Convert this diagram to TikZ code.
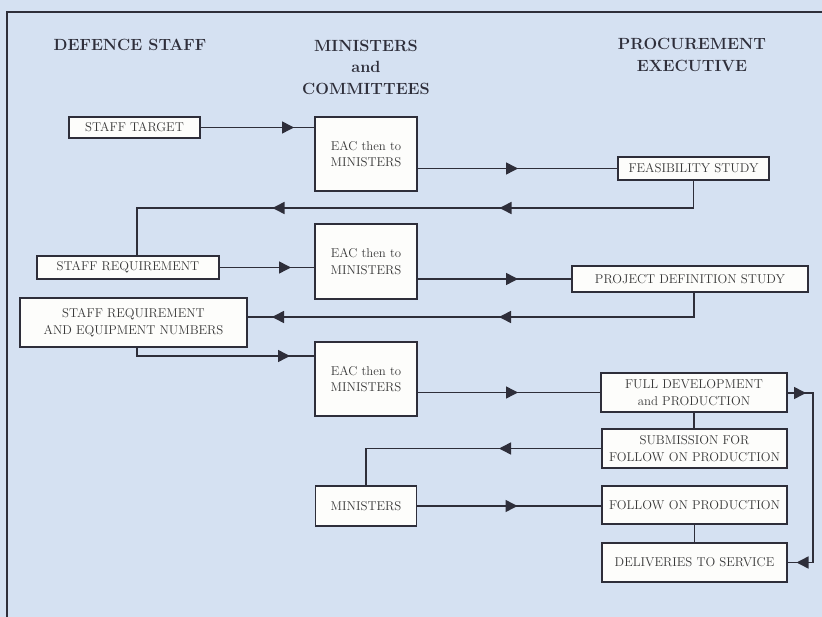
\documentclass[tikz,border=0pt]{standalone}
\usetikzlibrary{arrows.meta,decorations.markings}
\definecolor{bgblue}{HTML}{D5E1F2}
\definecolor{ink}{HTML}{2E2E3A}
\definecolor{txt}{HTML}{383838}
\definecolor{boxfill}{HTML}{FDFDFB}
\begin{document}
\begin{tikzpicture}[x=1pt,y=-1pt,
  every node/.style={inner sep=0pt, outer sep=0pt},
  boxx/.style={draw=ink, line width=1.4pt, fill=boxfill, text=txt, align=center,
    font=\fontsize{12.8}{16.5}\selectfont},
  head/.style={text=ink, align=center, font=\fontsize{16.2}{21.5}\selectfont\bfseries},
  conn/.style={draw=ink, line width=1.5pt},
  arr/.style={postaction={decorate,decoration={markings,
    mark=at position #1 with {\arrow{Triangle[length=12pt,width=12pt]}}}}}
]
\fill[bgblue] (0,0) rectangle (822,617);
\useasboundingbox (0,0) rectangle (822,617);
\draw[ink, line width=1.4pt] (822,12) -- (7,12) -- (7,617);

% headings
\node[head] (h1) at (130,45) {DEFENCE STAFF};
\node[head] (h2) at (366,67) {MINISTERS\\and\\COMMITTEES};
\node[head] (h3) at (692,55) {PROCUREMENT\\EXECUTIVE};

% boxes
\node[boxx, minimum width=131, minimum height=21] (st) at (134.5,127.5) {STAFF TARGET};
\node[boxx, minimum width=102, minimum height=74] (eac1) at (366,154) {EAC then to\\MINISTERS};
\node[boxx, minimum width=151, minimum height=23] (fs) at (693.5,168.5) {FEASIBILITY STUDY};
\node[boxx, minimum width=182, minimum height=23] (sr) at (128,267.5) {STAFF REQUIREMENT};
\node[boxx, minimum width=102, minimum height=75] (eac2) at (366,261.5) {EAC then to\\MINISTERS};
\node[boxx, minimum width=236, minimum height=26] (pds) at (690,279) {PROJECT DEFINITION STUDY};
\node[boxx, minimum width=227, minimum height=49] (sren) at (133.5,322.5) {STAFF REQUIREMENT\\AND EQUIPMENT NUMBERS};
\node[boxx, minimum width=102, minimum height=74] (eac3) at (366,379) {EAC then to\\MINISTERS};
\node[boxx, minimum width=186, minimum height=39] (fdp) at (694,392.5) {FULL DEVELOPMENT\\and PRODUCTION};
\node[boxx, minimum width=185, minimum height=39] (sub) at (694.5,448.5) {SUBMISSION FOR\\FOLLOW ON PRODUCTION};
\node[boxx, minimum width=101, minimum height=40] (min) at (366,506) {MINISTERS};
\node[boxx, minimum width=185, minimum height=38] (fop) at (694.5,505) {FOLLOW ON PRODUCTION};
\node[boxx, minimum width=185, minimum height=39] (del) at (694.5,562.5) {DELIVERIES TO SERVICE};

% junction coordinates
\coordinate (j1) at (693.5,208);
\coordinate (j1b) at (137,208);
\coordinate (j2) at (694,317);
\coordinate (j3) at (137,356);
\coordinate (j4) at (813,393);

% connectors
\path[conn, arr=94pt] (st.east) -- (st.east -| eac1.west);
\path[conn, arr=101pt] (eac1.east |- fs.west) -- (fs.west);
\path[conn, arr=222pt, arr=449pt] (fs.south) -- (j1) -- (j1b) -- (j1b |- sr.north);
\path[conn, arr=72pt] (sr.east) -- (sr.east -| eac2.west);
\path[conn, arr=101pt] (eac2.east |- pds.west) -- (pds.west);
\path[conn, arr=220pt, arr=447pt] (j2 |- pds.south) -- (j2) -- (j2 -| sren.east);
\path[conn, arr=162pt] (j3 |- sren.south) -- (j3) -- (j3 -| eac3.west);
\path[conn, arr=101pt] (eac3.east |- fdp.west) -- (fdp.west);
\path[conn] (fdp.south) -- (fdp.south |- sub.north);
\path[conn, arr=103pt] (sub.west) -| (min.north);
\path[conn, arr=101pt] (min.east) -- (min.east -| fop.west);
\path[conn] (fop.south) -- (fop.south |- del.north);
\path[conn, arr=19pt, arr=212pt] (fdp.east |- j4) -- (j4) |- (del.east);
\end{tikzpicture}
\end{document}
